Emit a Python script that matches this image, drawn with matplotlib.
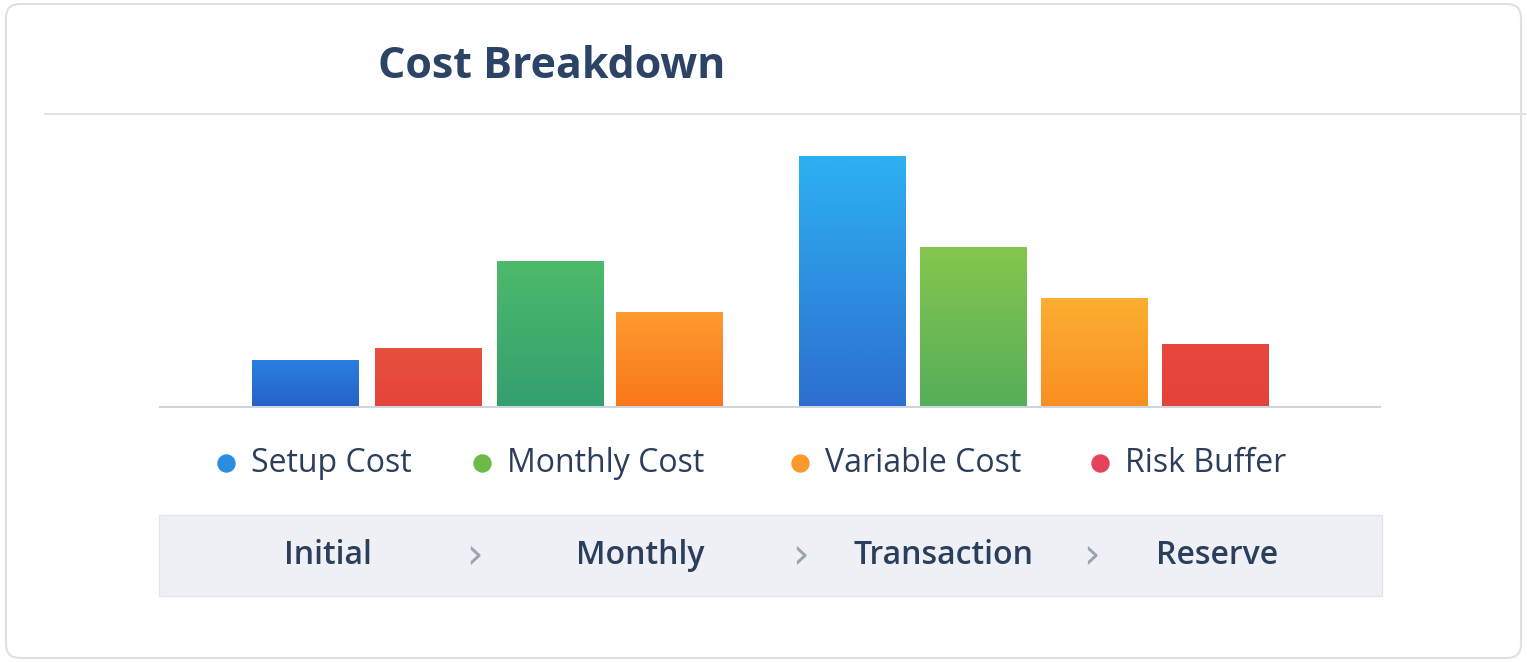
import matplotlib
matplotlib.use("Agg")
import matplotlib.pyplot as plt
import numpy as np
from matplotlib.patches import FancyBboxPatch, Rectangle
from matplotlib.colors import LinearSegmentedColormap

series = ["Setup Cost", "Risk Buffer", "Monthly Cost", "Variable Cost",
          "Setup Cost", "Monthly Cost", "Variable Cost", "Risk Buffer"]
values = [46, 58, 145, 94, 250, 159, 108, 62]
xpos = [305, 428, 550, 669, 852, 973, 1094, 1215]
legend_names = ["Setup Cost", "Monthly Cost", "Variable Cost", "Risk Buffer"]
stages = ["Initial", "Monthly", "Transaction", "Reserve"]

grad = [("#2a7fe0", "#2563c6"), ("#e8503e", "#e4443a"), ("#4cba6a", "#33a070"),
        ("#fd9a30", "#f9771a"), ("#2db0f2", "#2d6fd0"), ("#84c64e", "#57ae5a"),
        ("#fcae32", "#f98f22"), ("#e8473d", "#e4433a")]
leg_col = {"Setup Cost": "#2a8ee0", "Monthly Cost": "#6cbb4a",
           "Variable Cost": "#fb9a2a", "Risk Buffer": "#e5435a"}

W, H = 1527, 662
fig = plt.figure(figsize=(W/100, H/100), dpi=100)
fig.patch.set_facecolor("white")
bg = fig.add_axes([0, 0, 1, 1]); bg.set_xlim(0, W); bg.set_ylim(H, 0); bg.axis("off")
bg.add_patch(FancyBboxPatch((6, 4), W-12, H-8, boxstyle="round,pad=0,rounding_size=14",
             fc="white", ec="#dde1e7", lw=1.5))
bg.text(378, 67, "Cost Breakdown", fontsize=31, fontweight="bold", color="#2b4466",
        va="center", ha="left", family="Open Sans")
bg.plot([45, W], [114, 114], color="#dfe3ea", lw=1.5)
bg.plot([160, 1380], [407, 407], color="#cfd5de", lw=1.5)

lx = [226, 482, 800, 1100]
for x, n in zip(lx, legend_names):
    bg.scatter([x], [463], s=150, color=leg_col[n], zorder=3)
    bg.text(x+25, 463, n, fontsize=23, color="#2b3f5c", va="center", ha="left", family="Open Sans")

bg.add_patch(Rectangle((159, 515), 1223, 81, fc="#eef0f5", ec="#e2e6ec", lw=1))
for x, s in zip([328, 640, 944, 1217], stages):
    bg.text(x, 556, s, fontsize=23, color="#2b3f5c", va="center", ha="center",
            family="Open Sans", fontweight="semibold")
for x in [474, 800, 1091]:
    bg.text(x, 556, "›", fontsize=30, color="#9aa3b0", va="center", ha="center")

# bar axes: x in px, baseline at y=406, 1 unit = 1 px
ax = fig.add_axes([0, (H-406)/H, 1, 300/H])
ax.set_xlim(0, W); ax.set_ylim(0, 300); ax.axis("off")
bw = 107
for x, v, (ct, cb) in zip(xpos, values, grad):
    r = Rectangle((x-bw/2, 0), bw, v, fc=cb, ec="none", zorder=1)
    ax.add_patch(r)
    cm = LinearSegmentedColormap.from_list("g", [cb, ct])
    im = ax.imshow(np.linspace(0, 1, 100).reshape(-1, 1), cmap=cm, origin="lower",
                   extent=(x-bw/2, x+bw/2, 0, v), aspect="auto", zorder=2)
    im.set_clip_path(r)
ax.set_xlim(0, W); ax.set_ylim(0, 300)
fig.savefig("out.png", dpi=100)
